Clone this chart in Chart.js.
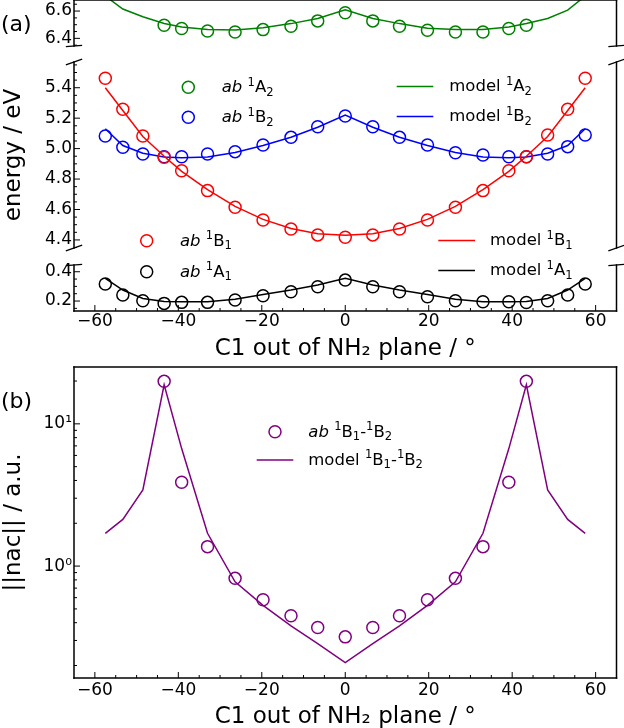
<!DOCTYPE html>
<html><head><meta charset="utf-8">
<script src="https://cdn.jsdelivr.net/npm/chart.js@4.4.0/dist/chart.umd.min.js"></script>
<style>
html,body{margin:0;padding:0;background:#fff;overflow:hidden;width:624px;height:728px;}
canvas{position:absolute;left:0;}
</style></head><body>
<canvas id="c1" width="624" height="78" style="top:-16px"></canvas>
<canvas id="c2" width="624" height="218" style="top:46px"></canvas>
<canvas id="c3" width="624" height="114" style="top:249px"></canvas>
<canvas id="c4" width="624" height="380" style="top:351px"></canvas>
<script>
// ---------- data ----------
const angles = [-57.5,-53.3,-48.5,-43.4,-39.2,-33,-26.4,-19.7,-13,-6.6,0,6.6,13,19.7,26.4,33,39.2,43.4,48.5,53.3,57.5];
const abA2    = [null,null,null,6.496,6.472,6.454,6.447,6.464,6.489,6.528,6.588,6.528,6.489,6.459,6.447,6.447,6.472,6.496,null,null,null];
const modelA2 = [6.71,6.615,6.558,6.509,6.484,6.464,6.462,6.477,6.508,6.545,6.61,6.545,6.508,6.474,6.464,6.464,6.484,6.509,6.546,6.607,6.71];
const abB2    = [5.083,5.009,4.965,4.947,4.947,4.965,4.98,5.024,5.074,5.144,5.214,5.144,5.074,5.024,4.973,4.958,4.947,4.947,4.965,5.013,5.089];
const modelB2 = [5.13,5.02,4.97,4.945,4.94,4.945,4.975,5.02,5.075,5.14,5.22,5.14,5.075,5.02,4.975,4.945,4.94,4.945,4.97,5.02,5.13];
const abB1    = [5.462,5.258,5.083,4.943,4.855,4.724,4.615,4.531,4.472,4.433,4.418,4.433,4.472,4.531,4.615,4.724,4.855,4.947,5.089,5.258,5.462];
const modelB1 = [5.40,5.25,5.08,4.95,4.85,4.73,4.62,4.535,4.475,4.44,4.43,4.44,4.475,4.535,4.62,4.73,4.85,4.95,5.08,5.25,5.40];
const abA1    = [0.316,0.241,0.202,0.184,0.191,0.191,0.207,0.236,0.263,0.298,0.343,0.298,0.263,0.229,0.202,0.195,0.195,0.19,0.202,0.241,0.316];
const modelA1 = [0.355,0.275,0.218,0.197,0.195,0.195,0.212,0.245,0.275,0.31,0.355,0.31,0.275,0.245,0.212,0.195,0.195,0.197,0.218,0.275,0.355];
const abNac    = [null,null,null,19.9,3.88,1.37,0.82,0.58,0.447,0.37,0.318,0.37,0.447,0.58,0.82,1.37,3.88,19.9,null,null,null];
const modelNac = [1.70,2.13,3.43,18.8,6.7,1.7,0.775,0.53,0.38,0.285,0.21,0.285,0.38,0.53,0.775,1.7,6.7,18.8,3.43,2.13,1.70];

const xTickValues = [-60,-40,-20,0,20,40,60];
const xTickLabels = ['−60','−40','−20','0','20','40','60'];
const yTicksA2 = [6.4,6.6];               const yLabelsA2 = ['6.4','6.6'];
const yTicksB  = [4.4,4.6,4.8,5.0,5.2,5.4]; const yLabelsB = ['4.4','4.6','4.8','5.0','5.2','5.4'];
const yTicksA1 = [0.2,0.4];               const yLabelsA1 = ['0.2','0.4'];
const yTicksNac = [1,10];                 const yLabelsNac = ['10⁰','10¹'];

// ---------- setup ----------
const FONT = "'DejaVu Sans', 'Liberation Sans', sans-serif";
Chart.defaults.font.family = FONT;
Chart.defaults.color = '#000';
const C = {green:'#008000', blue:'#0000ff', red:'#ff0000', black:'#000000', purple:'#800080'};

function pts(xs, ys){ const o=[]; xs.forEach((x,i)=>{ if(ys[i]!==null) o.push({x:x,y:ys[i]}); }); return o; }
function abSet(ys,color){ return {data:pts(angles,ys), showLine:false, borderColor:color, backgroundColor:'rgba(0,0,0,0)',
  pointRadius:6, pointHoverRadius:6, pointBorderWidth:1.5, pointBorderColor:color, pointBackgroundColor:'rgba(0,0,0,0)'}; }
function modelSet(ys,color){ return {data:pts(angles,ys), showLine:true, borderColor:color, borderWidth:1.5,
  pointRadius:0, pointHoverRadius:0, tension:0, fill:false}; }

function minorLinear(min,max,step,majors){ const out=[]; const n0=Math.ceil(min/step), n1=Math.floor(max/step);
  for(let n=n0;n<=n1;n++){ const v=+(n*step).toFixed(6); if(v>min&&v<max&&!majors.some(m=>Math.abs(m-v)<1e-9)) out.push(v);} return out; }
function minorLog(min,max){ const out=[]; for(let k=-2;k<=2;k++) for(let m=2;m<=9;m++){ const v=m*Math.pow(10,k); if(v>min&&v<max) out.push(v);} return out; }

function parseRich(str){ const segs=[]; let it=false;
  for(let i=0;i<str.length;i++){ const c=str[i];
    if(c==='*'){it=!it;continue;}
    if(c==='^'){segs.push({t:str[++i],sup:true});continue;}
    if(c==='_'){segs.push({t:str[++i],sub:true});continue;}
    const last=segs[segs.length-1];
    if(last&&!last.sup&&!last.sub&&last.it===it) last.t+=c; else segs.push({t:c,it:it});
  } return segs; }
function drawRich(ctx,x,yMid,str,size){
  const base=yMid+0.36*size; let cx=x;
  parseRich(str).forEach(s=>{
    let fs=size, dy=0;
    if(s.sup){fs=size*0.7; dy=-0.4*size;}
    if(s.sub){fs=size*0.7; dy=0.2*size;}
    ctx.font=(s.it?'italic ':'')+fs+'px '+FONT;
    ctx.textBaseline='alphabetic'; ctx.textAlign='left'; ctx.fillStyle='#000';
    ctx.fillText(s.t,cx,base+dy);
    cx+=ctx.measureText(s.t).width;
  });
}

const deco = {
  id:'deco',
  afterDatasetsDraw(chart,args,o){
    const ctx=chart.ctx, ca=chart.chartArea, xs=chart.scales.x, ys=chart.scales.y;
    const seg=(x1,y1,x2,y2)=>{ctx.beginPath();ctx.moveTo(x1,y1);ctx.lineTo(x2,y2);ctx.stroke();};
    ctx.save(); ctx.strokeStyle='#000'; ctx.lineWidth=1;
    (o.yMajor||[]).forEach(v=>{const p=ys.getPixelForValue(v); seg(ca.left,p,ca.left+6,p);});
    (o.yMinor||[]).forEach(v=>{const p=ys.getPixelForValue(v); seg(ca.left,p,ca.left+3,p);});
    if(o.xTicks){
      xTickValues.forEach(v=>{const p=xs.getPixelForValue(v); seg(p,ca.bottom,p,ca.bottom-6);});
      minorLinear(-65,65,5,xTickValues).forEach(v=>{const p=xs.getPixelForValue(v); seg(p,ca.bottom,p,ca.bottom-3);});
    }
    ctx.lineWidth=1.5; ctx.lineCap='square';
    const s=o.spines||{};
    if(s.left) seg(ca.left,ca.top,ca.left,ca.bottom);
    if(s.right) seg(ca.right,ca.top,ca.right,ca.bottom);
    if(s.top) seg(ca.left,ca.top,ca.right,ca.top);
    if(s.bottom) seg(ca.left,ca.bottom,ca.right,ca.bottom);
    ctx.lineCap='butt'; ctx.lineWidth=1.3;
    const dw=0.015*(ca.right-ca.left), dh=0.015*(ca.bottom-ca.top);
    (o.breaks||[]).forEach(pos=>{ const y=pos==='top'?ca.top:ca.bottom;
      [ca.left,ca.right].forEach(x=>seg(x-dw,y+dh,x+dw,y-dh)); });
    ctx.restore();
  },
  afterDraw(chart,args,o){
    const ctx=chart.ctx, off=o.pageTop||0;
    ctx.save();
    (o.legend||[]).forEach(it=>{
      ctx.strokeStyle=it.color;
      if(it.kind==='circle'){ ctx.lineWidth=1.5; ctx.beginPath(); ctx.arc(it.x,it.y-off,6,0,Math.PI*2); ctx.stroke(); }
      else { ctx.lineWidth=1.5; ctx.beginPath(); ctx.moveTo(it.x1,it.y-off); ctx.lineTo(it.x2,it.y-off); ctx.stroke(); }
      drawRich(ctx,it.tx,it.y-1-off,it.label,16.5);
    });
    (o.labels||[]).forEach(l=>{
      ctx.font='22px '+FONT; ctx.fillStyle='#000'; ctx.textAlign='left'; ctx.textBaseline='middle';
      ctx.fillText(l.text,l.x,l.y-off);
    });
    ctx.restore();
  }
};

function makeChart(id,cfg){
  return new Chart(document.getElementById(id),{
    type:'scatter',
    data:{datasets:cfg.datasets},
    plugins:[deco],
    options:{
      responsive:false, animation:false, events:[],
      layout:{padding:{top:16,bottom:cfg.showX?0:16,left:0,right:7}},
      plugins:{legend:{display:false},tooltip:{enabled:false},deco:cfg.deco},
      scales:{
        x:{type:'linear',min:-65,max:65,display:cfg.showX,
           grid:{display:false,drawTicks:false},border:{display:false},
           afterBuildTicks:s=>{s.ticks=xTickValues.map(v=>({value:v}));},
           afterFit:s=>{ if(cfg.showX) s.height=cfg.xHeight; },
           ticks:{autoSkip:false,maxRotation:0,padding:cfg.xPad||0,font:{size:17},callback:(v,i)=>xTickLabels[i]},
           title:{display:!!cfg.showX,text:'C1 out of NH₂ plane / °',font:{size:23},padding:0}},
        y:{type:cfg.logY?'logarithmic':'linear',min:cfg.yMin,max:cfg.yMax,
           grid:{display:false,drawTicks:false},border:{display:false},
           afterBuildTicks:s=>{s.ticks=cfg.yTicks.map(v=>({value:v}));},
           afterFit:s=>{s.width=74;},
           ticks:{autoSkip:false,padding:2,font:{size:17},callback:(v,i)=>cfg.yLabels[i]},
           title:{display:!!cfg.yTitle,text:cfg.yTitle||'',font:{size:23},padding:0}}
      }
    }
  });
}

// top sub-panel (1A2)
makeChart('c1',{
  datasets:[modelSet(modelA2,C.green),abSet(abA2,C.green)],
  yMin:6.344,yMax:6.681,yTicks:yTicksA2,yLabels:yLabelsA2,showX:false,
  deco:{pageTop:-16,spines:{left:true,right:true,top:true},breaks:['bottom'],
    yMajor:yTicksA2,yMinor:minorLinear(6.344,6.681,0.05,yTicksA2),
    labels:[{text:'(a)',x:1,y:25}]}
});
// middle sub-panel (1B1, 1B2)
makeChart('c2',{
  datasets:[modelSet(modelB1,C.red),abSet(abB1,C.red),modelSet(modelB2,C.blue),abSet(abB2,C.blue)],
  yMin:4.347,yMax:5.569,yTicks:yTicksB,yLabels:yLabelsB,showX:false,yTitle:'energy / eV',
  deco:{pageTop:46,spines:{left:true,right:true},breaks:['top','bottom'],
    yMajor:yTicksB,yMinor:minorLinear(4.347,5.569,0.05,yTicksB),
    legend:[
      {kind:'circle',color:C.green,x:188.3,y:87.3,tx:221.7,label:'*ab* ^1A_2'},
      {kind:'circle',color:C.blue,x:188.3,y:117.3,tx:221.7,label:'*ab* ^1B_2'},
      {kind:'line',color:C.green,x1:396.7,x2:433.3,y:86.5,tx:449.3,label:'model ^1A_2'},
      {kind:'line',color:C.blue,x1:396.7,x2:433.3,y:116.5,tx:449.3,label:'model ^1B_2'},
      {kind:'circle',color:C.red,x:146.7,y:240.7,tx:180,label:'*ab* ^1B_1'},
      {kind:'line',color:C.red,x1:438.3,x2:475,y:240.5,tx:490,label:'model ^1B_1'}
    ]}
});
// bottom sub-panel (1A1)
makeChart('c3',{
  datasets:[modelSet(modelA1,C.black),abSet(abA1,C.black)],
  yMin:0.132,yMax:0.446,yTicks:yTicksA1,yLabels:yLabelsA1,showX:true,xHeight:52,xPad:0,
  deco:{pageTop:249,spines:{left:true,right:true,bottom:true},breaks:['top'],xTicks:true,
    yMajor:yTicksA1,yMinor:minorLinear(0.132,0.446,0.05,yTicksA1),
    legend:[
      {kind:'circle',color:C.black,x:146.7,y:271.7,tx:180,label:'*ab* ^1A_1'},
      {kind:'line',color:C.black,x1:438.3,x2:475,y:270.5,tx:490,label:'model ^1A_1'}
    ]}
});
// panel (b)
makeChart('c4',{
  datasets:[modelSet(modelNac,C.purple),abSet(abNac,C.purple)],
  logY:true,yMin:0.1634,yMax:25.1,yTicks:yTicksNac,yLabels:yLabelsNac,showX:true,xHeight:53,xPad:2,
  yTitle:'||nac|| / a.u.',
  deco:{pageTop:351,spines:{left:true,right:true,top:true,bottom:true},xTicks:true,
    yMajor:yTicksNac,yMinor:minorLog(0.1634,25.1),
    legend:[
      {kind:'circle',color:C.purple,x:275,y:431.7,tx:308.3,label:'*ab* ^1B_1-^1B_2'},
      {kind:'line',color:C.purple,x1:256.7,x2:293.3,y:460,tx:308.3,label:'model ^1B_1-^1B_2'}
    ],
    labels:[{text:'(b)',x:1,y:402.5}]}
});
</script>
</body></html>
